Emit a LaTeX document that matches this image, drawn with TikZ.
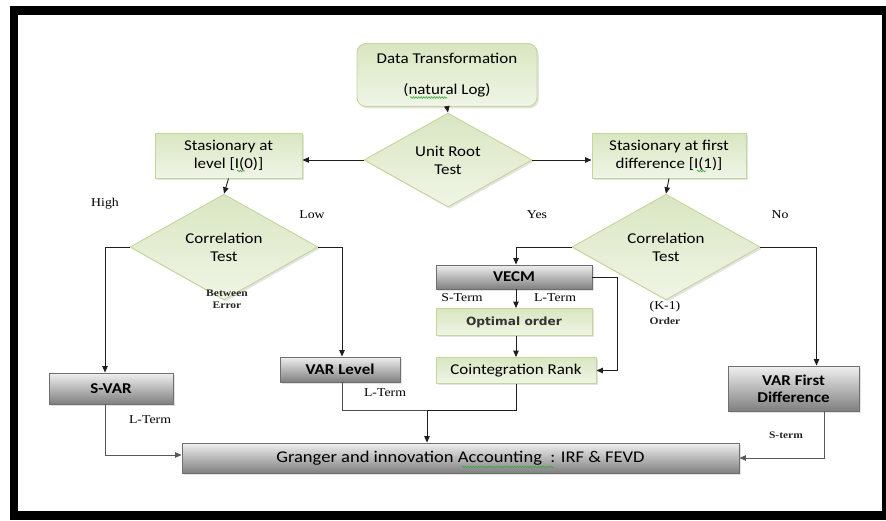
\documentclass[tikz,border=0pt]{standalone}
\usepackage{fontspec}
\setmainfont{Liberation Serif}[FakeStretch=1.15]
\newfontfamily\boxfont{Carlito}[FakeStretch=1.13]
\newfontfamily\optfont{DejaVu Sans}[FakeStretch=1.08]
\usetikzlibrary{shapes.geometric,arrows.meta,shadows,decorations.pathmorphing}

\definecolor{gbord}{HTML}{C3D69B}
\definecolor{gtop}{HTML}{D9E6C1}
\definecolor{gbot}{HTML}{F0F5E6}
\definecolor{greyedge}{HTML}{6F6F6F}
\definecolor{linec}{HTML}{1E1E1E}
\definecolor{squigc}{HTML}{3FA845}

\begin{document}
\begin{tikzpicture}[x=1pt,y=-1pt,
  softshadow/.style={drop shadow={opacity=0.22, shadow xshift=1.8pt, shadow yshift=-1.8pt}},
  gbox/.style={draw=gbord, line width=0.9pt, top color=gtop, bottom color=gbot,
    font=\boxfont\fontsize{15}{18}\selectfont, align=center, inner sep=0pt, softshadow},
  dia/.style={gbox, diamond},
  graybox/.style={draw=greyedge, line width=0.9pt, top color=black!6, bottom color=black!50,
    font=\boxfont\bfseries\fontsize{15}{17}\selectfont, align=center, inner sep=0pt, softshadow},
  link/.style={draw=linec, line width=0.9pt, -{Triangle[length=6.5pt,width=5.5pt]}},
  plain/.style={draw=linec, line width=0.9pt},
  lab/.style={font=\fontsize{12}{13}\selectfont, inner sep=0pt},
  smalllab/.style={font=\bfseries\fontsize{10}{12}\selectfont, inner sep=0pt, text=black!85},
  squiggle/.style={draw=squigc, line width=0.6pt, decorate,
    decoration={snake, amplitude=0.9pt, segment length=2.6pt}}
]
\useasboundingbox (0,0) rectangle (886,520);
\fill[white] (0,0) rectangle (886,520);

% outer frame
\draw[line width=8.5pt] (14,10.5) rectangle (886,515.5);

% boxes and decisions
\node[gbox, rounded corners=9pt, minimum width=180pt, minimum height=63pt] (dt) at (447,75)
  {Data Transformation\\[13pt](natural Log)};
\node[dia, minimum width=168pt, minimum height=76pt] (urt) at (448,160) {Unit Root\\Test};
\node[gbox, minimum width=147pt, minimum height=45pt] (lvl) at (228.5,155.5) {Stasionary at\\level [I(0)]};
\node[gbox, minimum width=154pt, minimum height=45pt] (fd) at (669,155.5) {Stasionary at first\\difference [I(1)]};
\node[dia, minimum width=188pt, minimum height=77pt] (corrL) at (224,247) {Correlation\\Test};
\node[dia, minimum width=188pt, minimum height=77pt] (corrR) at (666,247) {Correlation\\Test};

\node[graybox, minimum width=124pt, minimum height=31pt] (svar) at (111,388.5) {S-VAR};
\node[graybox, minimum width=120pt, minimum height=25pt] (varl) at (340,369.5) {VAR Level};
\node[graybox, minimum width=156pt, minimum height=24pt] (vecm) at (514,277) {VECM};
\node[gbox, minimum width=156pt, minimum height=27pt, font=\optfont\bfseries\fontsize{11.3}{13}\selectfont, text=black!80] (opt) at (514,322) {Optimal order};
\node[gbox, minimum width=160pt, minimum height=26pt] (coint) at (516,370.5) {Cointegration Rank};
\node[graybox, minimum width=131pt, minimum height=45pt] (vfd) at (793.5,388.5) {VAR First\\Difference};
\node[graybox, minimum width=557pt, minimum height=30pt, font=\boxfont\fontsize{16.4}{18}\selectfont] (gr) at (460.5,458)
  {Granger and innovation Accounting\ \ : IRF \& FEVD};

% connectors
\draw[link] (dt.south) -- (urt.north);
\draw[link] (urt.west) -- (urt.west -| lvl.east);
\draw[link] (urt.east) -- (urt.east -| fd.west);
\draw[link] (lvl.south) -- (corrL.north);
\draw[link] (fd.south) -- (corrR.north);
\draw[link] (corrL.west) -| ([xshift=-6pt]svar.north);
\draw[link] (corrL.east) -| ([xshift=2pt]varl.north);
\draw[link] (corrR.west) -| ([xshift=2pt]vecm.north);
\draw[link] (corrR.east) -| ([xshift=23pt]vfd.north);
\draw[link] ([xshift=2pt]vecm.south) -- ([xshift=2pt]opt.north);
\draw[link] ([xshift=2pt]opt.south) -- (coint.north);
\draw[link] (vecm.east) -- ++(25,0) |- (coint.east);

\coordinate (join) at (427,410);
\draw[plain, draw=black!70] ([xshift=2pt]varl.south) |- (join);
\draw[plain] (coint.south) |- (join);
\draw[link] (join) -- (join |- gr.north);
\draw[link, draw=black!65] ([xshift=-6pt]svar.south) |- ([yshift=3pt]gr.west);
\draw[link, draw=black!65] ([xshift=30.5pt]vfd.south) |- (gr.east);

% branch labels
\node[lab] (high) at (105,204) {High};
\node[lab] (low) at (312,215) {Low};
\node[smalllab] (betw) at (227,293) {Between};
\node[smalllab] (err) at (227,305) {Error};
\node[lab] (yes) at (537,215) {Yes};
\node[lab] (no) at (780,215) {No};
\node[lab] (sterm) at (462,298) {S-Term};
\node[lab] (lterm) at (555,298) {L-Term};
\node[lab] (kone) at (665,307) {(K-1)};
\node[smalllab] (order) at (665,321) {Order};
\node[lab] (ltermA) at (150,420) {L-Term};
\node[lab] (ltermB) at (385,393) {L-Term};
\node[smalllab] (stermB) at (786,435) {S-term};

% spell-check underlines
\draw[squiggle] (410,97.5) -- (447,97.5);
\draw[squiggle] (237,171) -- (245,171);
\draw[squiggle] (697,171) -- (706,171);
\draw[squiggle] (462,467) -- (554,467);
\end{tikzpicture}
\end{document}
